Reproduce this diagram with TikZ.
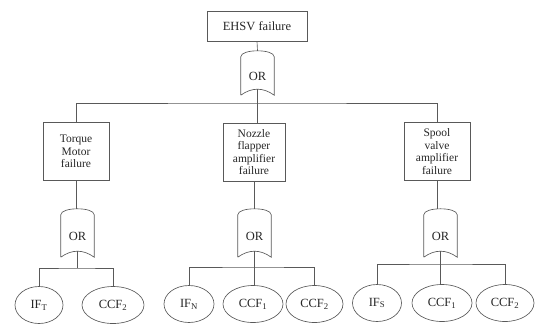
\documentclass[tikz,border=0pt]{standalone}
\usepackage{fontspec}
\setmainfont{Liberation Serif}
\usetikzlibrary{shapes.geometric,calc}
\begin{document}
\begin{tikzpicture}[x=1pt,y=-1pt,
  line/.style={draw=black!65,line width=0.65pt},
  evbox/.style={line,rectangle,inner sep=1pt,align=center,text=black!85},
  topbox/.style={evbox,minimum width=100pt,minimum height=30pt,font=\fontsize{12.5}{14}\selectfont},
  midbox/.style={evbox,minimum height=58pt,font=\fontsize{11.5}{12.5}\selectfont},
  gatebox/.style={rectangle,inner sep=0pt,minimum width=33pt,text=black!85,font=\fontsize{12.5}{14}\selectfont},
  basic/.style={line,ellipse,inner sep=0pt,minimum height=37pt,text=black!85,font=\fontsize{12.5}{14}\selectfont}]
\useasboundingbox (0,0) rectangle (538,325);

% top level
\node[topbox] (e0) at (257,26) {EHSV failure};
\node[gatebox,minimum height=38pt] (g0) at (257.5,76) {OR};
\coordinate (j0) at (257.5,103);

% intermediate events
\node[midbox,minimum width=66pt] (b1) at (76,151.5) {Torque\\Motor\\failure};
\node[midbox,minimum width=62pt] (b2) at (254,152) {Nozzle\\flapper\\amplifier\\failure};
\node[midbox,minimum width=66pt] (b3) at (437,151.5) {Spool\\valve\\amplifier\\failure};

% lower gates
\node[gatebox,minimum height=42pt] (g1) at (77.5,236) {OR};
\node[gatebox,minimum height=42pt] (g2) at (254.5,236) {OR};
\node[gatebox,minimum height=42pt] (g3) at (440.5,236) {OR};

% gate outlines and their top/bottom points
\foreach \g in {g0,g1,g2,g3}{
  \draw[line] (\g.south west) -- (\g.north west)
    .. controls ($(\g.north west)+(0,-8)$) and ($(\g.north east)+(0,-8)$) .. (\g.north east)
    -- (\g.south east)
    .. controls ($(\g.south east)+(-11,-8)$) and ($(\g.south west)+(11,-8)$) .. (\g.south west);
  \coordinate (\g t) at ($(\g.north)+(0,-6)$);
  \coordinate (\g b) at ($(\g.south)+(0,-6)$);
}

% basic events
\node[basic,minimum width=48pt] (t1) at (39,305) {IF\textsubscript{T}};
\node[basic,minimum width=62pt] (t2) at (113,305) {CCF\textsubscript{2}};
\node[basic,minimum width=50pt] (n1) at (189,304) {IF\textsubscript{N}};
\node[basic,minimum width=60pt] (n2) at (253,304) {CCF\textsubscript{1}};
\node[basic,minimum width=57pt] (n3) at (314.5,304) {CCF\textsubscript{2}};
\node[basic,minimum width=49pt] (s1) at (377,303) {IF\textsubscript{S}};
\node[basic,minimum width=60pt] (s2) at (442,303) {CCF\textsubscript{1}};
\node[basic,minimum width=58pt] (s3) at (505,303) {CCF\textsubscript{2}};

\coordinate (j1) at (77.5,268);
\coordinate (j2) at (254.5,267);
\coordinate (j3) at (440.5,264);

% connectors
\draw[line] (e0.south) -- (g0t);
\draw[line] (g0b) -- (j0);
\draw[line] (b1.north) |- (j0) -| (b3.north);
\draw[line] (j0) -- (j0 |- b2.north);

\draw[line] (b1.south) -- (b1.south |- g1t);
\draw[line] (b2.south) -- (b2.south |- g2t);
\draw[line] (b3.south) -- (b3.south |- g3t);

\draw[line] (g1b) -- (j1);
\draw[line] (g2b) -- (j2);
\draw[line] (g3b) -- (j3);

\draw[line] (t1.north) |- (j1) -| (t2.north);
\draw[line] (n1.north) |- (j2) -| (n3.north);
\draw[line] (j2) -- (j2 |- n2.north);
\draw[line] (s1.north) |- (j3) -| (s3.north);
\draw[line] (j3) -- (j3 |- s2.north);
\end{tikzpicture}
\end{document}
